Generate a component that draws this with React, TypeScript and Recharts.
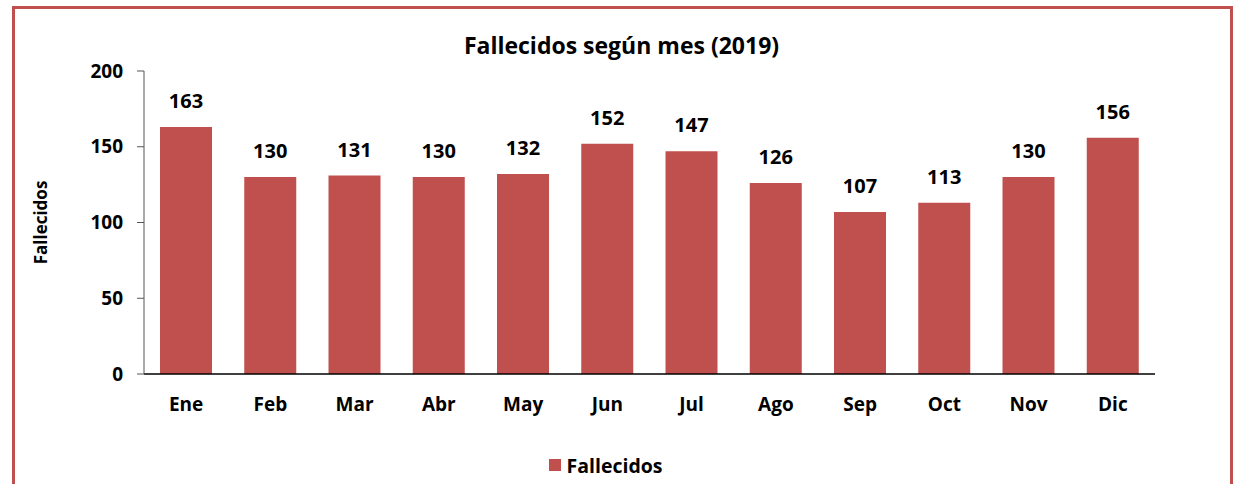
import React from 'react';
import { BarChart, Bar, XAxis, YAxis, Legend, LabelList } from 'recharts';

const months = ['Ene', 'Feb', 'Mar', 'Abr', 'May', 'Jun', 'Jul', 'Ago', 'Sep', 'Oct', 'Nov', 'Dic'];
const fallecidos = [163, 130, 131, 130, 132, 152, 147, 126, 107, 113, 130, 156];
const yTicks = [0, 50, 100, 150, 200];

const data = months.map((m, i) => ({ mes: m, Fallecidos: fallecidos[i] }));

const FONT = '"Open Sans", "Noto Sans", sans-serif';
const RED = '#c0504d';

const YLabel = (props: any) => {
  const vb = props.viewBox || {};
  const cy = (vb.y || 0) + (vb.height || 0) / 2;
  return (
    <text
      x={40}
      y={cy}
      transform={`rotate(-90, 40, ${cy})`}
      textAnchor="middle"
      dominantBaseline="central"
      fontFamily={FONT}
      fontWeight={700}
      fontSize={17}
      fill="#000"
    >
      Fallecidos
    </text>
  );
};

const LegendContent = () => (
  <div style={{ display: 'flex', justifyContent: 'center', alignItems: 'center', height: 24, fontFamily: FONT, fontWeight: 700, fontSize: 19.5, color: '#000', paddingRight: 22 }}>
    <span style={{ display: 'inline-block', width: 12, height: 12, background: RED, marginRight: 6 }} />
    <span>Fallecidos</span>
  </div>
);

export default function App() {
  return (
    <div style={{ position: 'absolute', left: 0, top: 0, width: 1233, height: 484, overflow: 'hidden', background: '#fff' }}>
      <div style={{ position: 'absolute', left: 12, top: 6, width: 1221, height: 600, border: `3px solid ${RED}`, boxSizing: 'border-box' }} />
      <div style={{ position: 'absolute', left: 0, top: 29, width: 1233, textAlign: 'center', fontFamily: FONT, fontWeight: 700, fontSize: 23, color: '#000', lineHeight: '32px', paddingLeft: 10, boxSizing: 'border-box' }}>
        Fallecidos según mes (2019)
      </div>
      <div style={{ position: 'absolute', left: 0, top: 0 }}>
        <BarChart width={1233} height={484} data={data} margin={{ top: 71, right: 78, left: 84, bottom: 46 }} barCategoryGap="19%">
          <XAxis
            dataKey="mes"
            height={40}
            tickLine={false}
            tickSize={0}
            tickMargin={24}
            axisLine={{ stroke: '#000', strokeWidth: 1.5 }}
            tick={{ fill: '#000', fontFamily: FONT, fontWeight: 700, fontSize: 19 }}
            interval={0}
          />
          <YAxis
            width={60}
            domain={[0, 200]}
            ticks={yTicks}
            interval={0}
            tickSize={7}
            tickMargin={14}
            axisLine={{ stroke: '#555', strokeWidth: 1 }}
            tickLine={{ stroke: '#555' }}
            tick={{ fill: '#000', fontFamily: FONT, fontWeight: 700, fontSize: 19 }}
            label={<YLabel />}
          />
          <Legend verticalAlign="bottom" content={<LegendContent />} wrapperStyle={{ top: 453, bottom: 'auto', left: 0, width: 1233, height: 24 }} />
          <Bar dataKey="Fallecidos" fill={RED} isAnimationActive={false}>
            <LabelList dataKey="Fallecidos" position="top" offset={19} fill="#000" fontFamily={FONT} fontWeight={700} fontSize={20} />
          </Bar>
        </BarChart>
      </div>
    </div>
  );
}
